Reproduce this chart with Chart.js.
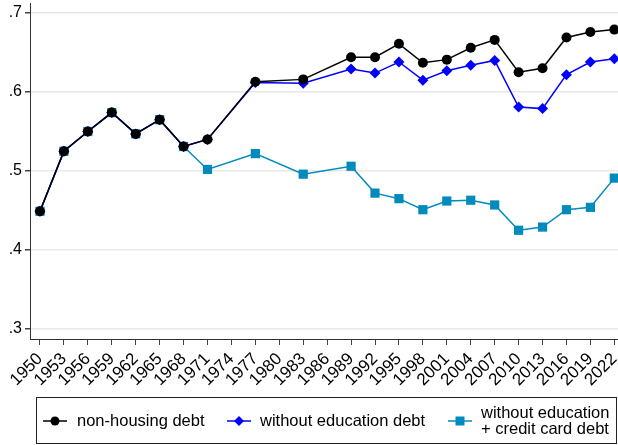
<!DOCTYPE html>
<html>
<head>
<meta charset="utf-8">
<script src="https://cdn.jsdelivr.net/npm/chart.js@4"></script>
<style>
  html, body { margin: 0; padding: 0; background: #fff; }
  #wrap { width: 618px; height: 445px; position: relative; }
</style>
</head>
<body>
<div id="wrap"><canvas id="chart"></canvas></div>
<script>
// survey years and shares
const years = [1950, 1953, 1956, 1959, 1962, 1965, 1968, 1971, 1977, 1983, 1989,
  1992, 1995, 1998, 2001, 2004, 2007, 2010, 2013, 2016, 2019, 2022];

const nonHousing = [0.449, 0.525, 0.550, 0.574, 0.547, 0.565, 0.531, 0.540, 0.613, 0.616, 0.644,
  0.644, 0.661, 0.637, 0.641, 0.656, 0.666, 0.625, 0.630, 0.669, 0.676, 0.679];

const noEducation = [0.449, 0.525, 0.550, 0.574, 0.547, 0.565, 0.531, 0.540, 0.612, 0.611, 0.629,
  0.624, 0.638, 0.615, 0.627, 0.634, 0.640, 0.581, 0.579, 0.622, 0.638, 0.642];

const noEduCredit = [0.449, 0.525, 0.550, 0.574, 0.547, 0.565, 0.531, 0.502, 0.522, 0.496, 0.506,
  0.472, 0.465, 0.451, 0.462, 0.463, 0.457, 0.425, 0.429, 0.451, 0.454, 0.491];

const xTicks = [];
for (let y = 1950; y <= 2022; y += 3) xTicks.push(y);
const yTicks = [0.3, 0.4, 0.5, 0.6, 0.7];

const FONT = "'Liberation Sans', Arial, sans-serif";
const EBBLUE = 'rgb(0,139,188)';

function pts(vals) {
  return years.map((yr, i) => ({ x: yr, y: vals[i] }));
}

// legend box below the plot, drawn by hand (third label wraps to two lines)
const boxLegend = {
  id: 'boxLegend',
  afterDraw(chart) {
    const ctx = chart.ctx;
    ctx.save();
    ctx.strokeStyle = '#222';
    ctx.lineWidth = 1;
    ctx.strokeRect(36.5, 397.5, 580, 46);

    ctx.font = '16.5px ' + FONT;
    ctx.fillStyle = '#000';
    ctx.textBaseline = 'middle';
    ctx.textAlign = 'left';
    const cy = 421;

    function key(x0, x1, color, drawMark) {
      ctx.strokeStyle = color;
      ctx.lineWidth = 1.5;
      ctx.beginPath();
      ctx.moveTo(x0, cy);
      ctx.lineTo(x1, cy);
      ctx.stroke();
      ctx.fillStyle = color;
      drawMark((x0 + x1) / 2);
      ctx.fillStyle = '#000';
    }

    key(43, 67, '#000', (cx) => {
      ctx.beginPath(); ctx.arc(cx, cy, 4.5, 0, Math.PI * 2); ctx.fill();
    });
    ctx.fillText('non-housing debt', 77, cy);

    key(227, 251, '#0000ff', (cx) => {
      ctx.beginPath();
      ctx.moveTo(cx, cy - 5); ctx.lineTo(cx + 5, cy);
      ctx.lineTo(cx, cy + 5); ctx.lineTo(cx - 5, cy);
      ctx.closePath(); ctx.fill();
    });
    ctx.fillText('without education debt', 260, cy);

    key(448, 472, EBBLUE, (cx) => {
      ctx.fillRect(cx - 4.5, cy - 4.5, 9, 9);
    });
    ctx.fillText('without education', 481, 413);
    ctx.fillText('+ credit card debt', 481, 429);
    ctx.restore();
  }
};

new Chart(document.getElementById('chart'), {
  type: 'line',
  data: {
    datasets: [
      {
        label: 'non-housing debt',
        data: pts(nonHousing),
        borderColor: '#000', backgroundColor: '#000',
        borderWidth: 1.5, pointStyle: 'circle', pointRadius: 5,
        pointBorderWidth: 0,
      },
      {
        label: 'without education debt',
        data: pts(noEducation),
        borderColor: '#0000ff', backgroundColor: '#0000ff',
        borderWidth: 1.5, pointStyle: 'rectRot', pointRadius: 5.5,
        pointBorderWidth: 0,
      },
      {
        label: 'without education + credit card debt',
        data: pts(noEduCredit),
        borderColor: EBBLUE, backgroundColor: EBBLUE,
        borderWidth: 1.5, pointStyle: 'rect', pointRadius: 6.5,
        pointBorderWidth: 0,
      },
    ],
  },
  options: {
    responsive: true,
    maintainAspectRatio: false,
    animation: false,
    layout: { autoPadding: false, padding: { top: 3, right: 0, bottom: 56, left: 0 } },
    plugins: {
      legend: { display: false },
      tooltip: { enabled: false },
    },
    scales: {
      x: {
        type: 'linear',
        min: 1948.75,
        max: 2022.46,
        afterBuildTicks: (s) => { s.ticks = xTicks.map((v) => ({ value: v })); },
        afterFit: (s) => { s.height = 50; s.paddingLeft = 0; s.paddingRight = 0; },
        ticks: {
          autoSkip: false, minRotation: 45, maxRotation: 45,
          color: '#000', padding: 4,
          font: { family: FONT, size: 17 },
          callback: (v) => String(v),
        },
        grid: { drawOnChartArea: false, tickLength: 6, tickColor: '#444' },
        border: { color: '#333', width: 1 },
      },
      y: {
        min: 0.2873,
        max: 0.7127,
        afterBuildTicks: (s) => { s.ticks = yTicks.map((v) => ({ value: v })); },
        afterFit: (s) => { s.width = 30; s.paddingTop = 0; s.paddingBottom = 0; },
        ticks: {
          color: '#000', padding: 3,
          font: { family: FONT, size: 16 },
          callback: (v) => v.toFixed(1).replace(/^0/, ''),
        },
        grid: { color: '#e8e8e8', lineWidth: 1.5, tickLength: 5, tickColor: '#444' },
        border: { color: '#333', width: 1 },
      },
    },
  },
  plugins: [boxLegend],
});
</script>
</body>
</html>
